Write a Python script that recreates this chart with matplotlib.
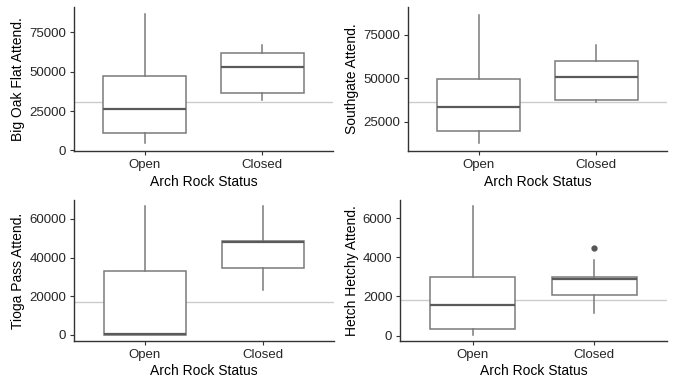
import matplotlib as mpl
import matplotlib.pyplot as plt

mpl.rcParams['font.family'] = ['Liberation Sans', 'DejaVu Sans']

groups = ['Open', 'Closed']
xlabel = 'Arch Rock Status'

# per panel: label, (whislo, q1, med, q3, whishi) for Open / Closed, outliers, mean line, ticks
labels = ['Big Oak Flat Attend.', 'Southgate Attend.', 'Tioga Pass Attend.', 'Hetch Hetchy Attend.']
open_stats = [
    [4900, 11200, 26400, 47000, 86700],
    [12700, 19900, 33600, 49400, 86000],
    [0, 0, 400, 33200, 66900],
    [50, 355, 1570, 3010, 6600],
]
closed_stats = [
    [31800, 36500, 52700, 61800, 66900],
    [36600, 37300, 50400, 59700, 69300],
    [23100, 34600, 48100, 48700, 66900],
    [1150, 2080, 2890, 3010, 3880],
]
closed_outliers = [[], [], [], [4470]]
ref_lines = [30800, 36400, 17100, 1820]
yticks = [
    [0, 25000, 50000, 75000],
    [25000, 50000, 75000],
    [0, 20000, 40000, 60000],
    [0, 2000, 4000, 6000],
]
ylims = [(-400, 91100), (8240, 90800), (-3250, 69800), (-280, 6930)]

# axes rectangles in pixels: left, top, right, bottom
W, H = 677, 379
rects = [(74, 7, 333, 151), (408, 7, 667, 151), (74, 200, 334, 341), (400, 200, 667, 341)]

fig = plt.figure(figsize=(W / 100, H / 100), dpi=100)

for i in range(4):
    l, t, r, b = rects[i]
    ax = fig.add_axes([l / W, (H - b) / H, (r - l) / W, (b - t) / H])
    stats = []
    for name, s, fl in [(groups[0], open_stats[i], []), (groups[1], closed_stats[i], closed_outliers[i])]:
        stats.append(dict(label=name, whislo=s[0], q1=s[1], med=s[2], q3=s[3], whishi=s[4], fliers=fl))
    ax.axhline(ref_lines[i], color='#cccccc', lw=1, zorder=1)
    ax.bxp(stats, positions=[1, 2], widths=0.7, showcaps=False, patch_artist=True,
           boxprops=dict(facecolor='white', edgecolor='#7a7a7a', lw=1.1),
           whiskerprops=dict(color='#7a7a7a', lw=1.1),
           medianprops=dict(color='#5a5a5a', lw=1.6),
           flierprops=dict(marker='o', markersize=3.5, markerfacecolor='#555555',
                           markeredgecolor='#555555'),
           zorder=2)
    ax.set_xlim(0.4, 2.6)
    ax.set_ylim(*ylims[i])
    ax.set_yticks(yticks[i])
    ax.set_xticks([1, 2])
    ax.set_xticklabels(groups)
    for side in ['top', 'right']:
        ax.spines[side].set_visible(False)
    for side in ['left', 'bottom']:
        ax.spines[side].set_color('#333333')
        ax.spines[side].set_linewidth(1.0)
    ax.tick_params(length=3, width=0.8, color='#333333', labelsize=9.5,
                   labelcolor='#262626', pad=2.5)
    ax.set_xlabel(xlabel, fontsize=10, labelpad=3.5 if i < 2 else 2.5)
    ax.set_ylabel(labels[i], fontsize=10, labelpad=3)

fig.savefig('out.png', dpi=100)
